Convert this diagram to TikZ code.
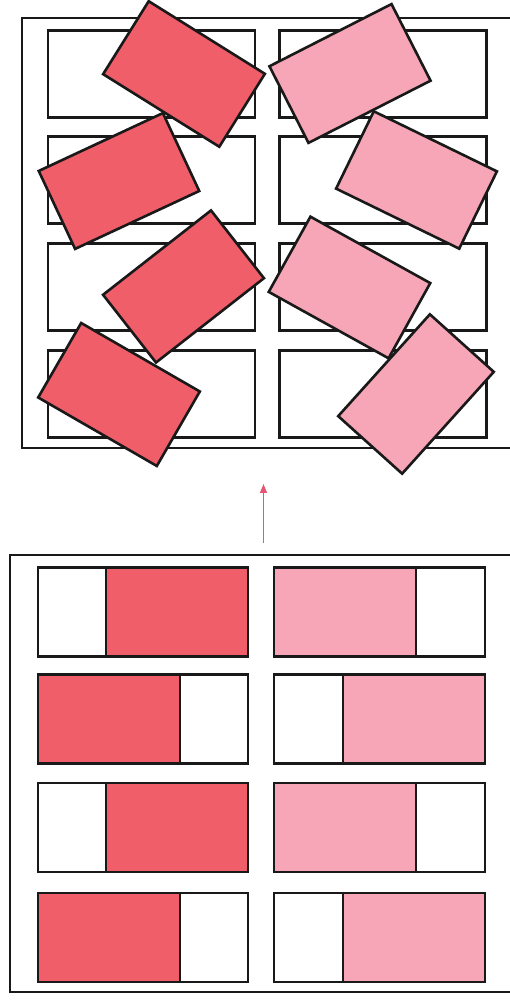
\documentclass[tikz,border=0pt]{standalone}
\usetikzlibrary{arrows.meta}

\definecolor{cardred}{RGB}{240,94,106}
\definecolor{cardpink}{RGB}{246,166,182}
\definecolor{arrowred}{RGB}{228,86,116}

\begin{document}
\begin{tikzpicture}[
    x=1pt, y=1pt,
    frame/.style={rectangle, draw=black!90, line width=2.6pt, inner sep=0pt},
    slot/.style={rectangle, draw=black!90, line width=2.6pt, inner sep=0pt, minimum width=207pt, minimum height=87pt},
    card/.style={rectangle, draw=black!90, line width=2.6pt, inner sep=0pt, minimum width=137pt, minimum height=86pt},
    tray/.style={rectangle, draw=black!90, line width=2.6pt, inner sep=0pt, minimum width=210pt, minimum height=89pt},
    part/.style={rectangle, draw=black!90, line width=2.6pt, inner sep=0pt, minimum width=142pt, minimum height=89pt},
    arrow/.style={-{Triangle[length=9pt,width=7pt]}, line width=1.4pt, arrowred}
]
\useasboundingbox (0,0) rectangle (510,1003);
\clip (0,0) rectangle (510,1003);

% Upper frame with empty slots
\node[frame, minimum width=508pt, minimum height=430pt] (upperframe) at (276,770) {};
\foreach \y [count=\i] in {929,823,716,609} {
    \node[slot] (uleft\i) at (151.5,\y) {};
    \node[slot] (uright\i) at (383,\y) {};
}

% Tilted cards
\node[card, fill=cardred, rotate=-32] (redone) at (184,929) {};
\node[card, fill=cardred, rotate=25] (redtwo) at (119,822) {};
\node[card, fill=cardred, rotate=38] (redthree) at (183.5,716.5) {};
\node[card, fill=cardred, rotate=-30] (redfour) at (119,608.5) {};
\node[card, fill=cardpink, rotate=27] (pinkone) at (350,929.5) {};
\node[card, fill=cardpink, rotate=-26] (pinktwo) at (416.5,823) {};
\node[card, fill=cardpink, rotate=-29] (pinkthree) at (349.5,715.5) {};
\node[card, fill=cardpink, rotate=48] (pinkfour) at (416,609) {};

% Arrow
\coordinate (arrowfoot) at (263.5,460);
\coordinate (arrowhead) at (263.5,519);
\draw[arrow] (arrowfoot) -- (arrowhead);

% Lower frame with filled trays
\node[frame, minimum width=520pt, minimum height=437pt] (lowerframe) at (270,229.5) {};
\foreach \y/\l/\r [count=\i] in {391/east/west, 284/west/east, 175.5/east/west, 65.5/west/east} {
    \node[tray] (lleft\i) at (143,\y) {};
    \node[tray, minimum width=211pt] (lright\i) at (379.5,\y) {};
    \node[part, fill=cardred, anchor=\l] (lredpart\i) at (lleft\i.\l) {};
    \node[part, fill=cardpink, anchor=\r] (lpinkpart\i) at (lright\i.\r) {};
}

\end{tikzpicture}
\end{document}
